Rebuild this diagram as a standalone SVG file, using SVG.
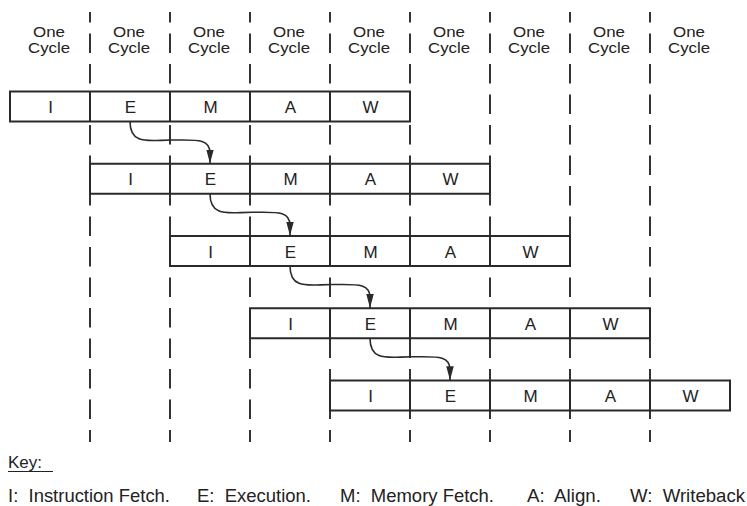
<svg xmlns="http://www.w3.org/2000/svg" width="747" height="506" viewBox="0 0 747 506">
<style>
.dash{stroke:#333;stroke-width:2;stroke-dasharray:19.5 11;stroke-dashoffset:9;fill:none}
.box{fill:#fff;stroke:#2a2a2a;stroke-width:2}
.div{stroke:#2a2a2a;stroke-width:2}
.hdr{font-family:"Liberation Sans",Arial,sans-serif;font-size:15.5px;fill:#222;text-anchor:middle}
.cell{font-family:"Liberation Sans",Arial,sans-serif;font-size:17px;fill:#222;text-anchor:middle}
.key{font-family:"Liberation Sans",Arial,sans-serif;font-size:19px;fill:#222}
.keyh{font-family:"Liberation Sans",Arial,sans-serif;font-size:17px;fill:#222}
.arr{fill:none;stroke:#2a2a2a;stroke-width:1.6}
</style>
<defs>
<marker id="ah" markerUnits="userSpaceOnUse" markerWidth="16" markerHeight="10" refX="14" refY="3.75" orient="auto">
<path d="M0,0 L14,3.75 L0,7.5 z" fill="#2a2a2a"/>
</marker>
</defs>
<g id="headers">
<text class="hdr" x="49" y="36.5" textLength="32" lengthAdjust="spacingAndGlyphs">One</text><text class="hdr" x="49" y="53" textLength="42" lengthAdjust="spacingAndGlyphs">Cycle</text>
<text class="hdr" x="129" y="36.5" textLength="32" lengthAdjust="spacingAndGlyphs">One</text><text class="hdr" x="129" y="53" textLength="42" lengthAdjust="spacingAndGlyphs">Cycle</text>
<text class="hdr" x="209" y="36.5" textLength="32" lengthAdjust="spacingAndGlyphs">One</text><text class="hdr" x="209" y="53" textLength="42" lengthAdjust="spacingAndGlyphs">Cycle</text>
<text class="hdr" x="289" y="36.5" textLength="32" lengthAdjust="spacingAndGlyphs">One</text><text class="hdr" x="289" y="53" textLength="42" lengthAdjust="spacingAndGlyphs">Cycle</text>
<text class="hdr" x="369" y="36.5" textLength="32" lengthAdjust="spacingAndGlyphs">One</text><text class="hdr" x="369" y="53" textLength="42" lengthAdjust="spacingAndGlyphs">Cycle</text>
<text class="hdr" x="449" y="36.5" textLength="32" lengthAdjust="spacingAndGlyphs">One</text><text class="hdr" x="449" y="53" textLength="42" lengthAdjust="spacingAndGlyphs">Cycle</text>
<text class="hdr" x="529" y="36.5" textLength="32" lengthAdjust="spacingAndGlyphs">One</text><text class="hdr" x="529" y="53" textLength="42" lengthAdjust="spacingAndGlyphs">Cycle</text>
<text class="hdr" x="609" y="36.5" textLength="32" lengthAdjust="spacingAndGlyphs">One</text><text class="hdr" x="609" y="53" textLength="42" lengthAdjust="spacingAndGlyphs">Cycle</text>
<text class="hdr" x="689" y="36.5" textLength="32" lengthAdjust="spacingAndGlyphs">One</text><text class="hdr" x="689" y="53" textLength="42" lengthAdjust="spacingAndGlyphs">Cycle</text>
</g>
<g id="cycle-lines">
<line class="dash" x1="90" y1="12" x2="90" y2="442"/>
<line class="dash" x1="170" y1="12" x2="170" y2="442"/>
<line class="dash" x1="250" y1="12" x2="250" y2="442"/>
<line class="dash" x1="330" y1="12" x2="330" y2="442"/>
<line class="dash" x1="410" y1="12" x2="410" y2="442"/>
<line class="dash" x1="490" y1="12" x2="490" y2="442"/>
<line class="dash" x1="570" y1="12" x2="570" y2="442"/>
<line class="dash" x1="650" y1="12" x2="650" y2="442"/>
</g>
<g id="instr1">
<rect class="box" x="10" y="91.5" width="400" height="30"/>
<line class="div" x1="90" y1="91.5" x2="90" y2="121.5"/><line class="div" x1="170" y1="91.5" x2="170" y2="121.5"/><line class="div" x1="250" y1="91.5" x2="250" y2="121.5"/><line class="div" x1="330" y1="91.5" x2="330" y2="121.5"/>
<text class="cell" x="50.5" y="113">I</text><text class="cell" x="130.5" y="113">E</text><text class="cell" x="210.5" y="113">M</text><text class="cell" x="290.5" y="113">A</text><text class="cell" x="370.5" y="113">W</text>
</g>
<g id="instr2">
<rect class="box" x="90" y="163.75" width="400" height="30"/>
<line class="div" x1="170" y1="163.75" x2="170" y2="193.75"/><line class="div" x1="250" y1="163.75" x2="250" y2="193.75"/><line class="div" x1="330" y1="163.75" x2="330" y2="193.75"/><line class="div" x1="410" y1="163.75" x2="410" y2="193.75"/>
<text class="cell" x="130.5" y="185.25">I</text><text class="cell" x="210.5" y="185.25">E</text><text class="cell" x="290.5" y="185.25">M</text><text class="cell" x="370.5" y="185.25">A</text><text class="cell" x="450.5" y="185.25">W</text>
</g>
<g id="instr3">
<rect class="box" x="170" y="236" width="400" height="30"/>
<line class="div" x1="250" y1="236" x2="250" y2="266"/><line class="div" x1="330" y1="236" x2="330" y2="266"/><line class="div" x1="410" y1="236" x2="410" y2="266"/><line class="div" x1="490" y1="236" x2="490" y2="266"/>
<text class="cell" x="210.5" y="257.5">I</text><text class="cell" x="290.5" y="257.5">E</text><text class="cell" x="370.5" y="257.5">M</text><text class="cell" x="450.5" y="257.5">A</text><text class="cell" x="530.5" y="257.5">W</text>
</g>
<g id="instr4">
<rect class="box" x="250" y="308.25" width="400" height="30"/>
<line class="div" x1="330" y1="308.25" x2="330" y2="338.25"/><line class="div" x1="410" y1="308.25" x2="410" y2="338.25"/><line class="div" x1="490" y1="308.25" x2="490" y2="338.25"/><line class="div" x1="570" y1="308.25" x2="570" y2="338.25"/>
<text class="cell" x="290.5" y="329.75">I</text><text class="cell" x="370.5" y="329.75">E</text><text class="cell" x="450.5" y="329.75">M</text><text class="cell" x="530.5" y="329.75">A</text><text class="cell" x="610.5" y="329.75">W</text>
</g>
<g id="instr5">
<rect class="box" x="330" y="380.5" width="400" height="30"/>
<line class="div" x1="410" y1="380.5" x2="410" y2="410.5"/><line class="div" x1="490" y1="380.5" x2="490" y2="410.5"/><line class="div" x1="570" y1="380.5" x2="570" y2="410.5"/><line class="div" x1="650" y1="380.5" x2="650" y2="410.5"/>
<text class="cell" x="370.5" y="402">I</text><text class="cell" x="450.5" y="402">E</text><text class="cell" x="530.5" y="402">M</text><text class="cell" x="610.5" y="402">A</text><text class="cell" x="690.5" y="402">W</text>
</g>
<g id="connectors">
<path class="arr" marker-end="url(#ah)" d="M130,121.5 C130,146 150,140 172,140 C196,140 210,138 210,153 L210,163.5"/>
<path class="arr" marker-end="url(#ah)" transform="translate(80,72.25)" d="M130,121.5 C130,146 150,140 172,140 C196,140 210,138 210,153 L210,163.5"/>
<path class="arr" marker-end="url(#ah)" transform="translate(160,144.5)" d="M130,121.5 C130,146 150,140 172,140 C196,140 210,138 210,153 L210,163.5"/>
<path class="arr" marker-end="url(#ah)" transform="translate(240,216.75)" d="M130,121.5 C130,146 150,140 172,140 C196,140 210,138 210,153 L210,163.5"/>
</g>
<g id="key">
<text class="keyh" x="8" y="468">Key:</text>
<line x1="8" y1="471.5" x2="53" y2="471.5" stroke="#222" stroke-width="1.2"/>
<text class="key" x="8" y="502" xml:space="preserve" textLength="162" lengthAdjust="spacingAndGlyphs">I:  Instruction Fetch.</text>
<text class="key" x="197" y="502" xml:space="preserve" textLength="114" lengthAdjust="spacingAndGlyphs">E:  Execution.</text>
<text class="key" x="340" y="502" xml:space="preserve" textLength="154" lengthAdjust="spacingAndGlyphs">M:  Memory Fetch.</text>
<text class="key" x="527" y="502" xml:space="preserve" textLength="74" lengthAdjust="spacingAndGlyphs">A:  Align.</text>
<text class="key" x="630" y="502" xml:space="preserve" textLength="115" lengthAdjust="spacingAndGlyphs">W:  Writeback</text>
</g>
</svg>
